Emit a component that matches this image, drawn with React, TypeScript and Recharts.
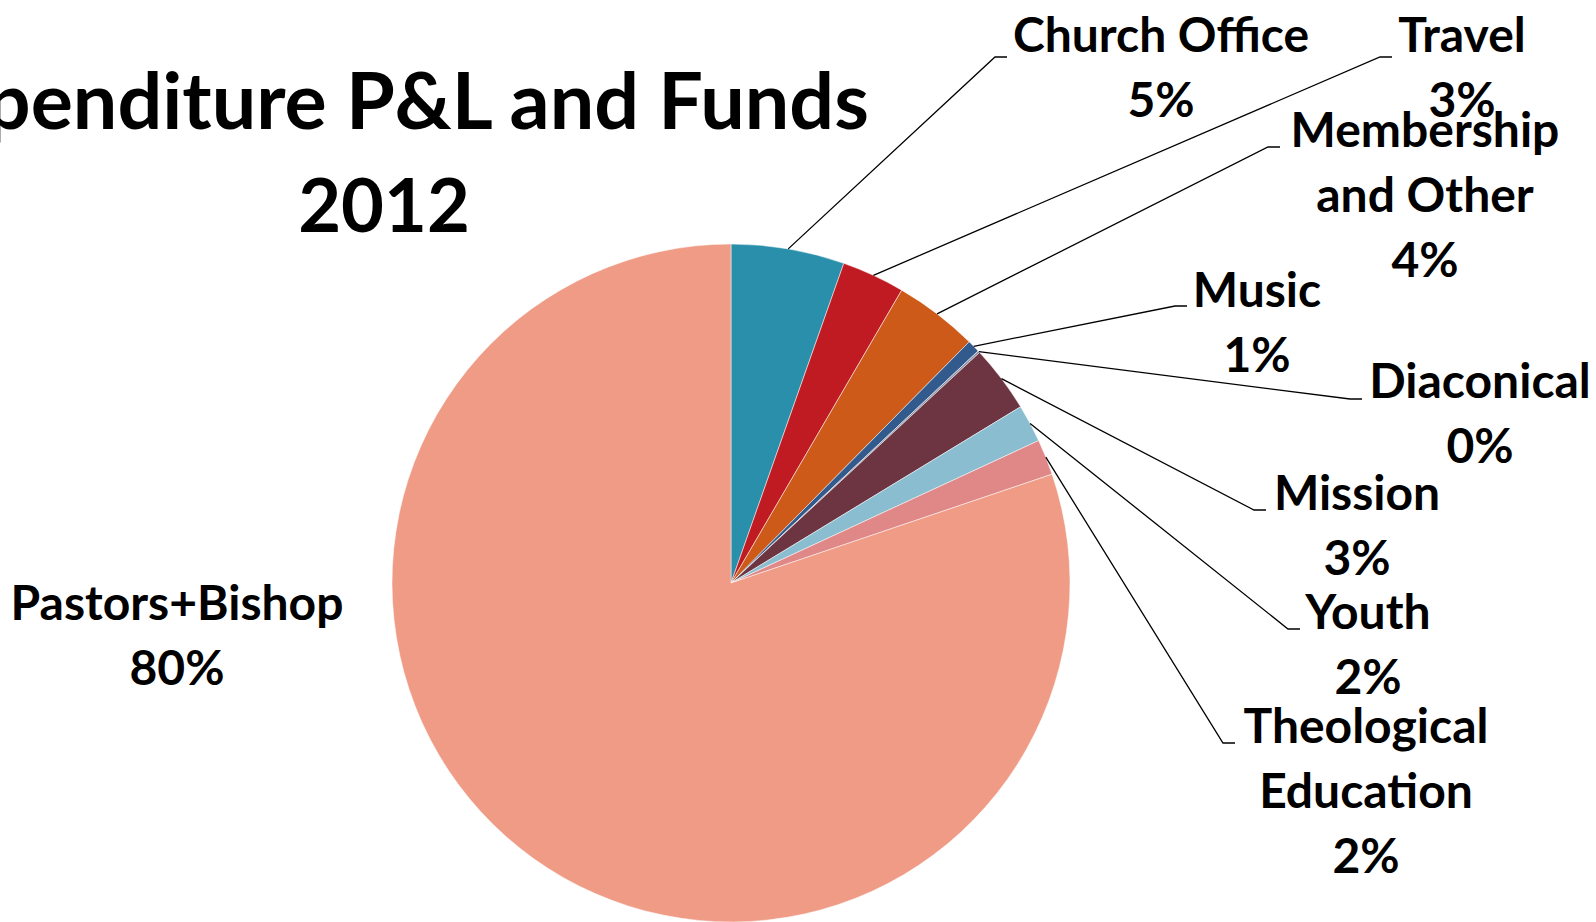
import { PieChart, Pie, Cell } from "recharts";

const categories = [
  "Church Office",
  "Travel",
  "Membership\nand Other",
  "Music",
  "Diaconical",
  "Mission",
  "Youth",
  "Theological\nEducation",
  "Pastors+Bishop",
];
const shares = [5.4, 3.0, 4.0, 0.6, 0.1, 3.2, 1.8, 1.7, 80.2];
const colors = [
  "#2A8FAA",
  "#C01B23",
  "#CE5A1A",
  "#325A8C",
  "#8D96A8",
  "#6D3441",
  "#8ABDCF",
  "#E08787",
  "#EF9B86",
];
const titleLines = ["Expenditure P&L and Funds", "2012"];

// where Excel put each data label: elbow of leader line + text anchor
const labelLayout = [
  { ex: 995, ey: 57, tx: 1161, ty: 52 },
  { ex: 1380, ey: 57, tx: 1462, ty: 52 },
  { ex: 1268, ey: 147, tx: 1425, ty: 147 },
  { ex: 1175, ey: 306, tx: 1257, ty: 307 },
  { ex: 1350, ey: 399, tx: 1480, ty: 398 },
  { ex: 1254, ey: 510, tx: 1357, ty: 510 },
  { ex: 1288, ey: 629, tx: 1368, ty: 629 },
  { ex: 1223, ey: 743, tx: 1366, ty: 743 },
  { ex: null, ey: null, tx: 177, ty: 620 },
];

const data = categories.map((name, i) => ({ name, value: shares[i] }));

const FONT = "Lato, 'Open Sans', sans-serif";
const RAD = Math.PI / 180;
const LINE_H = 65;

function renderLabel(props: any) {
  const { cx, cy, midAngle, outerRadius, index, percent, name } = props;
  const lay = labelLayout[index];
  const lines = String(name).split("\n");
  lines.push(`${Math.round(percent * 100)}%`);
  const sx = cx + outerRadius * Math.cos(-midAngle * RAD);
  const sy = cy + outerRadius * Math.sin(-midAngle * RAD);
  return (
    <g key={`lbl-${index}`}>
      {lay.ex != null && (
        <polyline
          points={`${sx},${sy} ${lay.ex},${lay.ey} ${lay.ex + 12},${lay.ey}`}
          fill="none"
          stroke="#000"
          strokeWidth={1.3}
        />
      )}
      <text
        x={lay.tx}
        y={lay.ty}
        textAnchor="middle"
        fontFamily={FONT}
        fontWeight="bold"
        fontSize={48}
        fill="#000"
      >
        {lines.map((l, j) => (
          <tspan key={j} x={lay.tx} y={lay.ty + j * LINE_H}>
            {l}
          </tspan>
        ))}
      </text>
    </g>
  );
}

export default function App() {
  return (
    <div style={{ width: 1596, height: 922, background: "#fff", overflow: "hidden" }}>
      <style>{`body{margin:0}`}</style>
      <PieChart width={1596} height={922} margin={{ top: 0, right: 0, bottom: 0, left: 0 }}>
        <text
          x={384}
          y={129}
          textAnchor="middle"
          fontFamily={FONT}
          fontWeight="bold"
          fontSize={79}
          fill="#000"
        >
          {titleLines[0]}
        </text>
        <text
          x={384}
          y={232}
          textAnchor="middle"
          fontFamily={FONT}
          fontWeight="bold"
          fontSize={74}
          fill="#000"
        >
          {titleLines[1]}
        </text>
        <Pie
          data={data}
          dataKey="value"
          nameKey="name"
          cx={731}
          cy={583}
          outerRadius={339}
          startAngle={90}
          endAngle={-270}
          stroke="#fff"
          strokeWidth={0.5}
          label={renderLabel}
          labelLine={false}
          isAnimationActive={false}
        >
          {data.map((d, i) => (
            <Cell key={d.name} fill={colors[i]} />
          ))}
        </Pie>
      </PieChart>
    </div>
  );
}
